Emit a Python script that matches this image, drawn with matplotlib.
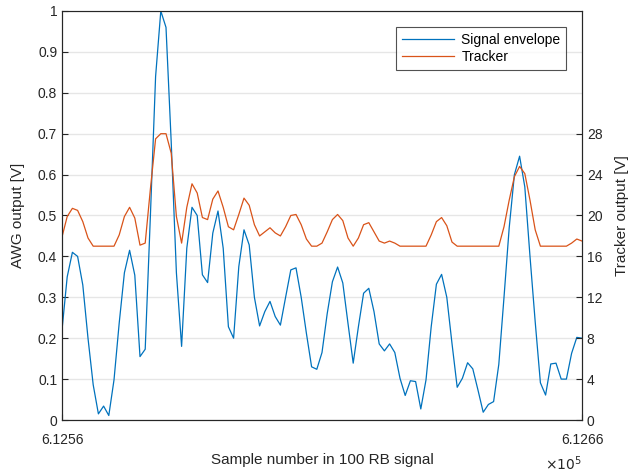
import matplotlib
matplotlib.use("Agg")
import matplotlib.pyplot as plt
import numpy as np

plt.rcParams['font.family'] = ['Liberation Sans', 'DejaVu Sans']

x_start = 612560
signal_envelope = [
    0.22, 0.35, 0.41, 0.40, 0.33, 0.20, 0.086, 0.015, 0.034, 0.011,
    0.098, 0.237, 0.36, 0.415, 0.354, 0.155, 0.173, 0.50, 0.84, 1.0,
    0.96, 0.68, 0.36, 0.18, 0.42, 0.52, 0.50, 0.355, 0.336, 0.457,
    0.511, 0.42, 0.228, 0.20, 0.375, 0.465, 0.428, 0.30, 0.23, 0.265,
    0.29, 0.253, 0.232, 0.30, 0.367, 0.372, 0.30, 0.212, 0.13, 0.124,
    0.165, 0.26, 0.338, 0.374, 0.335, 0.236, 0.139, 0.228, 0.31, 0.322,
    0.265, 0.186, 0.169, 0.186, 0.165, 0.102, 0.06, 0.096, 0.094, 0.027,
    0.098, 0.228, 0.332, 0.356, 0.30, 0.187, 0.08, 0.102, 0.14, 0.125,
    0.073, 0.019, 0.038, 0.045, 0.136, 0.30, 0.47, 0.60, 0.645, 0.57,
    0.40, 0.24, 0.091, 0.061, 0.137, 0.139, 0.10, 0.10, 0.163, 0.202,
    0.20,
]
tracker = [
    17.9, 19.9, 20.7, 20.5, 19.4, 17.8, 17.0, 17.0, 17.0, 17.0,
    17.0, 18.1, 19.9, 20.8, 19.75, 17.1, 17.3, 22.6, 27.5, 28.0,
    28.0, 26.1, 19.9, 17.3, 20.8, 23.1, 22.2, 19.8, 19.6, 21.6,
    22.4, 20.8, 18.9, 18.6, 20.1, 21.7, 21.0, 19.1, 18.0, 18.4,
    18.8, 18.3, 18.0, 18.9, 20.0, 20.1, 19.1, 17.7, 17.0, 17.0,
    17.3, 18.4, 19.6, 20.1, 19.5, 17.8, 17.0, 17.8, 19.1, 19.3,
    18.4, 17.5, 17.3, 17.5, 17.3, 17.0, 17.0, 17.0, 17.0, 17.0,
    17.0, 18.1, 19.4, 19.8, 19.0, 17.4, 17.0, 17.0, 17.0, 17.0,
    17.0, 17.0, 17.0, 17.0, 17.0, 18.9, 21.5, 23.8, 24.8, 24.1,
    21.5, 18.6, 17.0, 17.0, 17.0, 17.0, 17.0, 17.0, 17.3, 17.7,
    17.5,
]
x = np.arange(len(signal_envelope)) + x_start
xtick_vals = [612560, 612660]
xtick_labels = ["6.1256", "6.1266"]
left_ticks = [0, 0.1, 0.2, 0.3, 0.4, 0.5, 0.6, 0.7, 0.8, 0.9, 1.0]
left_labels = ["0", "0.1", "0.2", "0.3", "0.4", "0.5", "0.6", "0.7", "0.8", "0.9", "1"]
right_ticks = [0, 4, 8, 12, 16, 20, 24, 28]

blue = '#0072BD'
orange = '#D95319'
axcol = '#262626'

fig = plt.figure(figsize=(6.33, 4.75), dpi=100)
ax = fig.add_axes([62/633, 1-420/475, (582-62)/633, (420-11)/475])
ax2 = ax.twinx()

l1, = ax.plot(x, signal_envelope, color=blue, lw=0.9, label='Signal envelope')
l2, = ax2.plot(x, tracker, color=orange, lw=0.9, label='Tracker')

ax.set_xlim(612560, 612660)
ax.set_ylim(0, 1)
ax2.set_ylim(0, 40)
ax.set_xticks(xtick_vals)
ax.set_xticklabels(xtick_labels)
ax.set_yticks(left_ticks)
ax.set_yticklabels(left_labels)
ax2.set_yticks(right_ticks)

ax.grid(axis='y', color='#E6E6E6', lw=1.0)
ax.set_axisbelow(True)

for a in (ax, ax2):
    for s in a.spines.values():
        s.set_color(axcol)
        s.set_linewidth(0.8)
    a.tick_params(direction='in', colors=axcol, labelsize=10, length=4, width=0.8)
ax.tick_params(axis='x', pad=9)
ax.spines['top'].set_color('#7f7f7f')

ax.set_xlabel('Sample number in 100 RB signal', fontsize=11, color=axcol, labelpad=5)
ax.set_ylabel('AWG output [V]', fontsize=11, color=axcol, labelpad=9)
ax2.set_ylabel('Tracker output [V]', fontsize=11, color=axcol, labelpad=9)

ax.text(1.0, -0.1076, r'$\times10^5$', transform=ax.transAxes, ha='right', va='center',
        fontsize=10, color=axcol)

leg = ax2.legend([l1, l2], ['Signal envelope', 'Tracker'], loc='upper right',
                 bbox_to_anchor=(566/633, 1-27/475), bbox_transform=fig.transFigure,
                 fontsize=10, frameon=True, fancybox=False, borderaxespad=0,
                 handlelength=3.8, handletextpad=0.5, borderpad=0.4, labelspacing=0.25)
leg.get_frame().set_edgecolor(axcol)
leg.get_frame().set_linewidth(0.8)

fig.savefig('out.png', dpi=100)
